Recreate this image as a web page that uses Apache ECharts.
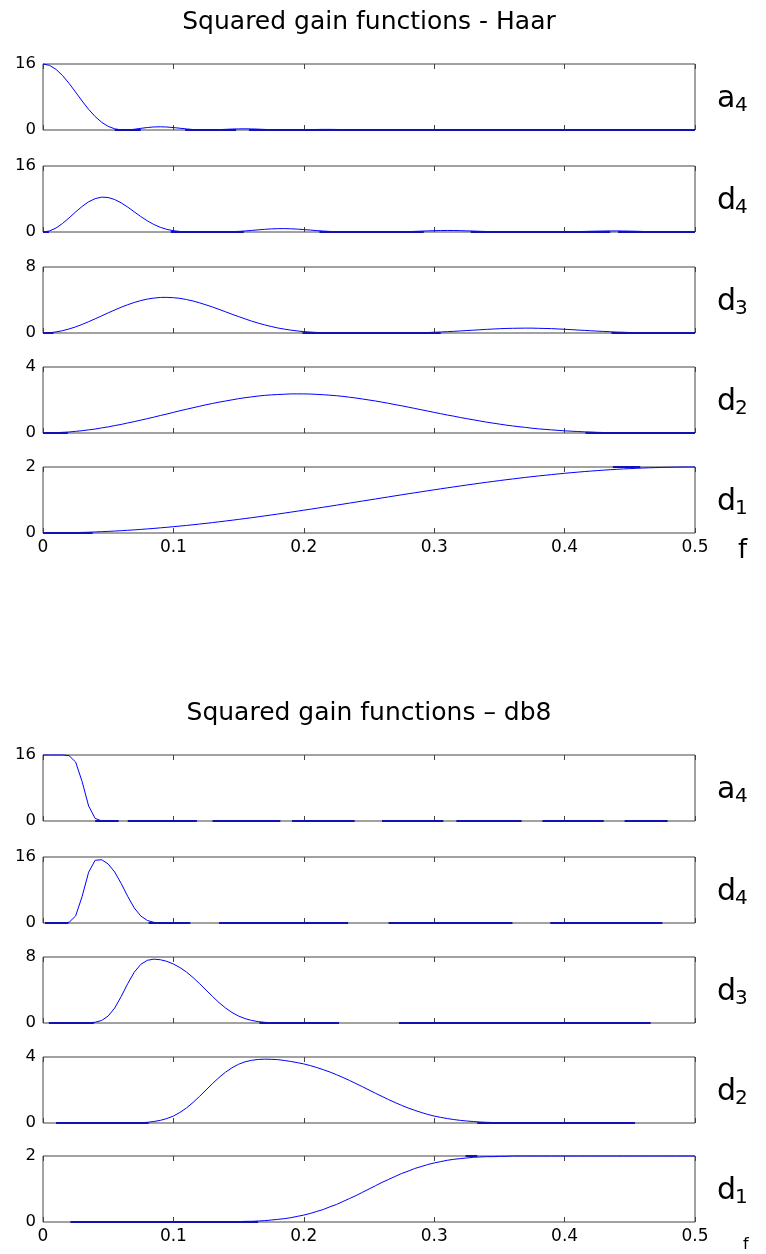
<!DOCTYPE html>
<html><head><meta charset="utf-8">
<script src="https://cdn.jsdelivr.net/npm/echarts@6/dist/echarts.min.js"></script>
<style>html,body{margin:0;padding:0;background:#fff}#c{width:766px;height:1254px}</style>
</head><body><div id="c"></div>
<script>
// ---------- data ----------
const titles = ['Squared gain functions - Haar', 'Squared gain functions \u2013 db8'];
const bandNames = [['a','4'],['d','4'],['d','3'],['d','2'],['d','1']];
const yMax = [16, 16, 8, 4, 2];
const freq = [0,0.005,0.01,0.015,0.02,0.025,0.03,0.035,0.04,0.045,
 0.05,0.055,0.06,0.065,0.07,0.075,0.08,0.085,0.09,0.095,
 0.1,0.105,0.11,0.115,0.12,0.125,0.13,0.135,0.14,0.145,
 0.15,0.155,0.16,0.165,0.17,0.175,0.18,0.185,0.19,0.195,
 0.2,0.205,0.21,0.215,0.22,0.225,0.23,0.235,0.24,0.245,
 0.25,0.255,0.26,0.265,0.27,0.275,0.28,0.285,0.29,0.295,
 0.3,0.305,0.31,0.315,0.32,0.325,0.33,0.335,0.34,0.345,
 0.35,0.355,0.36,0.365,0.37,0.375,0.38,0.385,0.39,0.395,
 0.4,0.405,0.41,0.415,0.42,0.425,0.43,0.435,0.44,0.445,
 0.45,0.455,0.46,0.465,0.47,0.475,0.48,0.485,0.49,0.495,
 0.5];

const haarA4 = [16,15.67,14.70,13.20,11.30,9.18,7.03,5.01,3.26,1.87,
 0.88,0.29,0.03,0.02,0.18,0.40,0.60,0.74,0.78,0.72,
 0.59,0.43,0.26,0.12,0.03,0,0.03,0.09,0.16,0.23,
 0.27,0.29,0.26,0.21,0.14,0.08,0.03,0,0,0.03,
 0.06,0.10,0.13,0.15,0.15,0.13,0.10,0.06,0.03,0.01,
 0,0.01,0.03,0.05,0.08,0.10,0.11,0.11,0.09,0.07,
 0.04,0.02,0,0,0.01,0.03,0.05,0.07,0.08,0.09,
 0.08,0.06,0.04,0.02,0.01,0,0,0.02,0.03,0.05,
 0.06,0.07,0.07,0.06,0.04,0.02,0.01,0,0,0.01,
 0.02,0.04,0.05,0.06,0.06,0.06,0.05,0.03,0.02,0,
 0];
const haarD4 = [0,0.25,0.97,2.07,3.42,4.85,6.20,7.32,8.09,8.45,
 8.36,7.87,7.06,6.03,4.89,3.75,2.71,1.82,1.13,0.64,
 0.31,0.13,0.04,0.01,0,0,0,0.01,0.03,0.07,
 0.15,0.25,0.38,0.52,0.65,0.75,0.81,0.82,0.78,0.70,
 0.59,0.47,0.34,0.23,0.14,0.07,0.03,0.01,0,0,
 0,0,0,0.01,0.02,0.05,0.09,0.15,0.21,0.27,
 0.32,0.35,0.37,0.36,0.33,0.28,0.23,0.17,0.12,0.07,
 0.04,0.02,0.01,0,0,0,0,0,0.01,0.02,
 0.03,0.06,0.10,0.14,0.18,0.21,0.24,0.26,0.26,0.24,
 0.21,0.18,0.13,0.09,0.06,0.03,0.01,0.01,0,0,
 0];
const haarD3 = [0,0.03,0.13,0.28,0.49,0.74,1.04,1.37,1.72,2.08,
 2.44,2.79,3.13,3.43,3.70,3.93,4.11,4.23,4.31,4.32,
 4.28,4.20,4.06,3.88,3.66,3.41,3.15,2.86,2.57,2.27,
 1.99,1.71,1.44,1.20,0.98,0.79,0.61,0.47,0.35,0.25,
 0.17,0.11,0.07,0.04,0.02,0.01,0,0,0,0,
 0,0,0,0,0.01,0.01,0.02,0.03,0.04,0.06,
 0.09,0.12,0.16,0.20,0.25,0.30,0.34,0.39,0.44,0.48,
 0.52,0.55,0.57,0.58,0.59,0.59,0.57,0.55,0.53,0.49,
 0.45,0.41,0.36,0.32,0.27,0.23,0.19,0.15,0.11,0.09,
 0.06,0.04,0.03,0.02,0.01,0,0,0,0,0,
 0];
const haarD2 = [0,0,0.02,0.04,0.06,0.10,0.14,0.19,0.24,0.31,
 0.37,0.45,0.52,0.61,0.69,0.78,0.87,0.96,1.06,1.15,
 1.25,1.35,1.44,1.53,1.62,1.71,1.79,1.87,1.94,2.01,
 2.08,2.14,2.19,2.24,2.28,2.31,2.33,2.35,2.37,2.37,
 2.37,2.36,2.34,2.32,2.29,2.26,2.22,2.17,2.12,2.06,
 2.00,1.94,1.87,1.80,1.72,1.65,1.57,1.49,1.41,1.33,
 1.25,1.17,1.09,1.02,0.94,0.87,0.80,0.73,0.66,0.60,
 0.54,0.48,0.43,0.38,0.34,0.29,0.25,0.22,0.19,0.16,
 0.13,0.11,0.09,0.07,0.06,0.04,0.03,0.03,0.02,0.01,
 0.01,0.01,0,0,0,0,0,0,0,0,
 0];
const haarD1 = [0,0.0005,0.002,0.004,0.008,0.012,0.018,0.024,0.031,0.040,
 0.049,0.059,0.070,0.082,0.095,0.109,0.124,0.139,0.156,0.173,
 0.191,0.210,0.229,0.250,0.271,0.293,0.315,0.339,0.363,0.387,
 0.412,0.438,0.464,0.491,0.518,0.546,0.574,0.603,0.632,0.661,
 0.691,0.721,0.751,0.782,0.812,0.843,0.874,0.906,0.937,0.969,
 1.000,1.031,1.063,1.094,1.126,1.157,1.188,1.218,1.249,1.279,
 1.309,1.339,1.368,1.397,1.426,1.454,1.482,1.509,1.536,1.562,
 1.588,1.613,1.637,1.661,1.685,1.707,1.729,1.750,1.770,1.790,
 1.809,1.827,1.844,1.861,1.876,1.891,1.905,1.918,1.930,1.941,
 1.951,1.960,1.969,1.976,1.982,1.988,1.992,1.996,1.998,2.000,
 2];

const db8A4 = [16,16,16,16,15.83,14.30,9.56,3.64,0.62,0.03,
 0,0,0,0,0,0,0,0,0,0,
 0,0,0,0,0,0,0,0,0,0,
 0,0,0,0,0,0,0,0,0,0,
 0,0,0,0,0,0,0,0,0,0,
 0,0,0,0,0,0,0,0,0,0,
 0,0,0,0,0,0,0,0,0,0,
 0,0,0,0,0,0,0,0,0,0,
 0,0,0,0,0,0,0,0,0,0,
 0,0,0,0,0,0,0,0,0,0,
 0];
const db8D4 = [0,0,0,0.01,0.17,1.70,6.43,12.32,15.21,15.34,
 14.30,12.35,9.56,6.43,3.64,1.69,0.62,0.16,0.03,0,
 0,0,0,0,0,0,0,0,0,0,
 0,0,0,0,0,0,0,0,0,0,
 0,0,0,0,0,0,0,0,0,0,
 0,0,0,0,0,0,0,0,0,0,
 0,0,0,0,0,0,0,0,0,0,
 0,0,0,0,0,0,0,0,0,0,
 0,0,0,0,0,0,0,0,0,0,
 0,0,0,0,0,0,0,0,0,0,
 0];
const db8D3 = [0,0,0,0,0,0,0,0.02,0.09,0.31,
 0.85,1.82,3.22,4.78,6.16,7.11,7.60,7.74,7.67,7.47,
 7.15,6.72,6.18,5.52,4.78,4.00,3.22,2.47,1.82,1.27,
 0.84,0.53,0.31,0.17,0.08,0.04,0.01,0,0,0,
 0,0,0,0,0,0,0,0,0,0,
 0,0,0,0,0,0,0,0,0,0,
 0,0,0,0,0,0,0,0,0,0,
 0,0,0,0,0,0,0,0,0,0,
 0,0,0,0,0,0,0,0,0,0,
 0,0,0,0,0,0,0,0,0,0,
 0];
const db8D2 = [0,0,0,0,0,0,0,0,0,0,
 0,0,0,0,0.01,0.02,0.04,0.09,0.16,0.27,
 0.42,0.64,0.91,1.24,1.61,2.00,2.39,2.76,3.08,3.35,
 3.56,3.71,3.80,3.85,3.87,3.86,3.84,3.79,3.73,3.66,
 3.58,3.48,3.36,3.23,3.09,2.93,2.76,2.58,2.39,2.20,
 2.00,1.80,1.61,1.42,1.24,1.07,0.91,0.77,0.64,0.52,
 0.42,0.34,0.27,0.21,0.16,0.12,0.09,0.06,0.04,0.03,
 0.02,0.01,0.01,0,0,0,0,0,0,0,
 0,0,0,0,0,0,0,0,0,0,
 0,0,0,0,0,0,0,0,0,0,
 0];
const db8D1 = [0,0,0,0,0,0,0,0,0,0,
 0,0,0,0,0,0,0,0,0,0,
 0,0,0,0,0,0,0,0,0,0.01,
 0.01,0.02,0.02,0.03,0.04,0.06,0.08,0.10,0.13,0.17,
 0.21,0.26,0.32,0.38,0.46,0.53,0.62,0.71,0.80,0.90,
 1.00,1.10,1.20,1.29,1.38,1.47,1.54,1.62,1.68,1.74,
 1.79,1.83,1.87,1.90,1.92,1.94,1.96,1.97,1.98,1.98,
 1.99,1.99,2.00,2.00,2.00,2.00,2.00,2.00,2.00,2.00,
 2,2,2,2,2,2,2,2,2,2,
 2,2,2,2,2,2,2,2,2,2,
 2];

// darker, heavier stretches of the trace lying on the box edge: [fStart, fEnd, value]
const haarEdgeSegs = [
 [[0.055,0.075,0],[0.109,0.148,0],[0.158,0.5,0]],
 [[0,0.0045,0],[0.098,0.154,0],[0.212,0.292,0],[0.328,0.435,0],[0.441,0.5,0]],
 [[0,0.008,0],[0.199,0.305,0],[0.436,0.5,0]],
 [[0,0.019,0],[0.416,0.5,0]],
 [[0,0.038,0],[0.437,0.458,2]]
];
const db8EdgeSegs = [
 [[0.040,0.058,0],[0.065,0.118,0],[0.13,0.182,0],[0.191,0.239,0],[0.26,0.307,0],[0.317,0.367,0],[0.383,0.43,0],[0.446,0.479,0]],
 [[0.0015,0.0194,0],[0.081,0.113,0],[0.135,0.234,0],[0.265,0.36,0],[0.389,0.475,0]],
 [[0.0045,0.039,0],[0.166,0.227,0],[0.273,0.466,0]],
 [[0.01,0.081,0],[0.333,0.454,0]],
 [[0.021,0.165,0],[0.324,0.333,2]]
];

// ---------- chart ----------
[haarA4,haarD4,haarD3,haarD2,haarD1,db8A4,db8D4,db8D3,db8D2,db8D1].forEach((a,i)=>{
  if (a.length !== freq.length) throw new Error('length mismatch in series ' + i + ': ' + a.length);
});

const FONT = 'DejaVu Sans';
const BORDER = '#444';
const LEFT = 43, W = 652, H = 66;
const groups = [
  {title: titles[0], titleY: 22, tops: [64,166,267,367,467], curves: [haarA4,haarD4,haarD3,haarD2,haarD1], segs: haarEdgeSegs, trim: false, f: {x: 738, y: 551, size: 26}},
  {title: titles[1], titleY: 713, tops: [755,857,957,1057,1156], curves: [db8A4,db8D4,db8D3,db8D2,db8D1], segs: db8EdgeSegs, trim: true, f: {x: 743, y: 1245, size: 16}}
];

const grid = [], xAxis = [], yAxis = [], series = [], graphic = [];
function txt(x, y, text, size, align) {
  return {type: 'text', x, y, silent: true, style: {text, fill: '#000', font: size + 'px "' + FONT + '"',
    align: align || 'left', verticalAlign: 'middle', textAlign: align || 'left', textVerticalAlign: 'middle'}};
}

groups.forEach((g) => {
  graphic.push(txt(LEFT + W / 2, g.titleY, g.title, 25, 'center'));
  graphic.push(txt(g.f.x, g.f.y, 'f', g.f.size));
  g.tops.forEach((top, pi) => {
    const gi = grid.length;
    const last = pi === g.tops.length - 1;
    grid.push({left: LEFT, top, width: W, height: H, show: true, borderColor: BORDER, borderWidth: 1, backgroundColor: 'rgba(0,0,0,0)'});
    const tick = {show: true, inside: true, length: 5, lineStyle: {color: BORDER, width: 1}};
    xAxis.push({type: 'value', gridIndex: gi, position: 'bottom', min: 0, max: 0.5, interval: 0.1,
      axisLine: {show: false}, splitLine: {show: false}, axisTick: tick,
      axisLabel: {show: last, fontSize: 17, fontFamily: FONT, color: '#000', margin: 6, showMinLabel: true, showMaxLabel: true}});
    xAxis.push({type: 'value', gridIndex: gi, position: 'top', min: 0, max: 0.5, interval: 0.1,
      axisLine: {show: false}, splitLine: {show: false}, axisTick: tick, axisLabel: {show: false}});
    yAxis.push({type: 'value', gridIndex: gi, min: 0, max: yMax[pi], interval: yMax[pi],
      axisLine: {show: false}, axisTick: {show: false}, splitLine: {show: false},
      axisLabel: {fontSize: 16.5, fontFamily: FONT, color: '#000', margin: 7, showMinLabel: true, showMaxLabel: true}});

    const vals = g.curves[pi];
    const data = freq.map((f, i) => {
      const v = vals[i];
      if (g.trim) {
        const prev = i > 0 ? vals[i - 1] : 0, next = i < vals.length - 1 ? vals[i + 1] : 0;
        if (v === 0 && prev === 0 && next === 0) return [f, null];
      }
      return [f, v];
    });
    series.push({type: 'line', xAxisIndex: 2 * gi, yAxisIndex: gi, data, symbol: 'none', showSymbol: false,
      connectNulls: false, clip: false, silent: true, z: 3,
      lineStyle: {color: '#0000ff', width: 1}});
    g.segs[pi].forEach((s) => {
      series.push({type: 'line', xAxisIndex: 2 * gi, yAxisIndex: gi, data: [[s[0], s[2]], [s[1], s[2]]],
        symbol: 'none', showSymbol: false, clip: false, silent: true, z: 4,
        lineStyle: {color: '#1212b0', width: 2}});
    });

    const cy = top + H / 2;
    graphic.push(txt(717, cy + 2, bandNames[pi][0], 30));
    graphic.push(txt(735, cy + 9, bandNames[pi][1], 20));
  });
});

const chart = echarts.init(document.getElementById('c'), null, {renderer: 'canvas'});
chart.setOption({animation: false, backgroundColor: '#fff', grid, xAxis, yAxis, series, graphic});
</script>
</body></html>
